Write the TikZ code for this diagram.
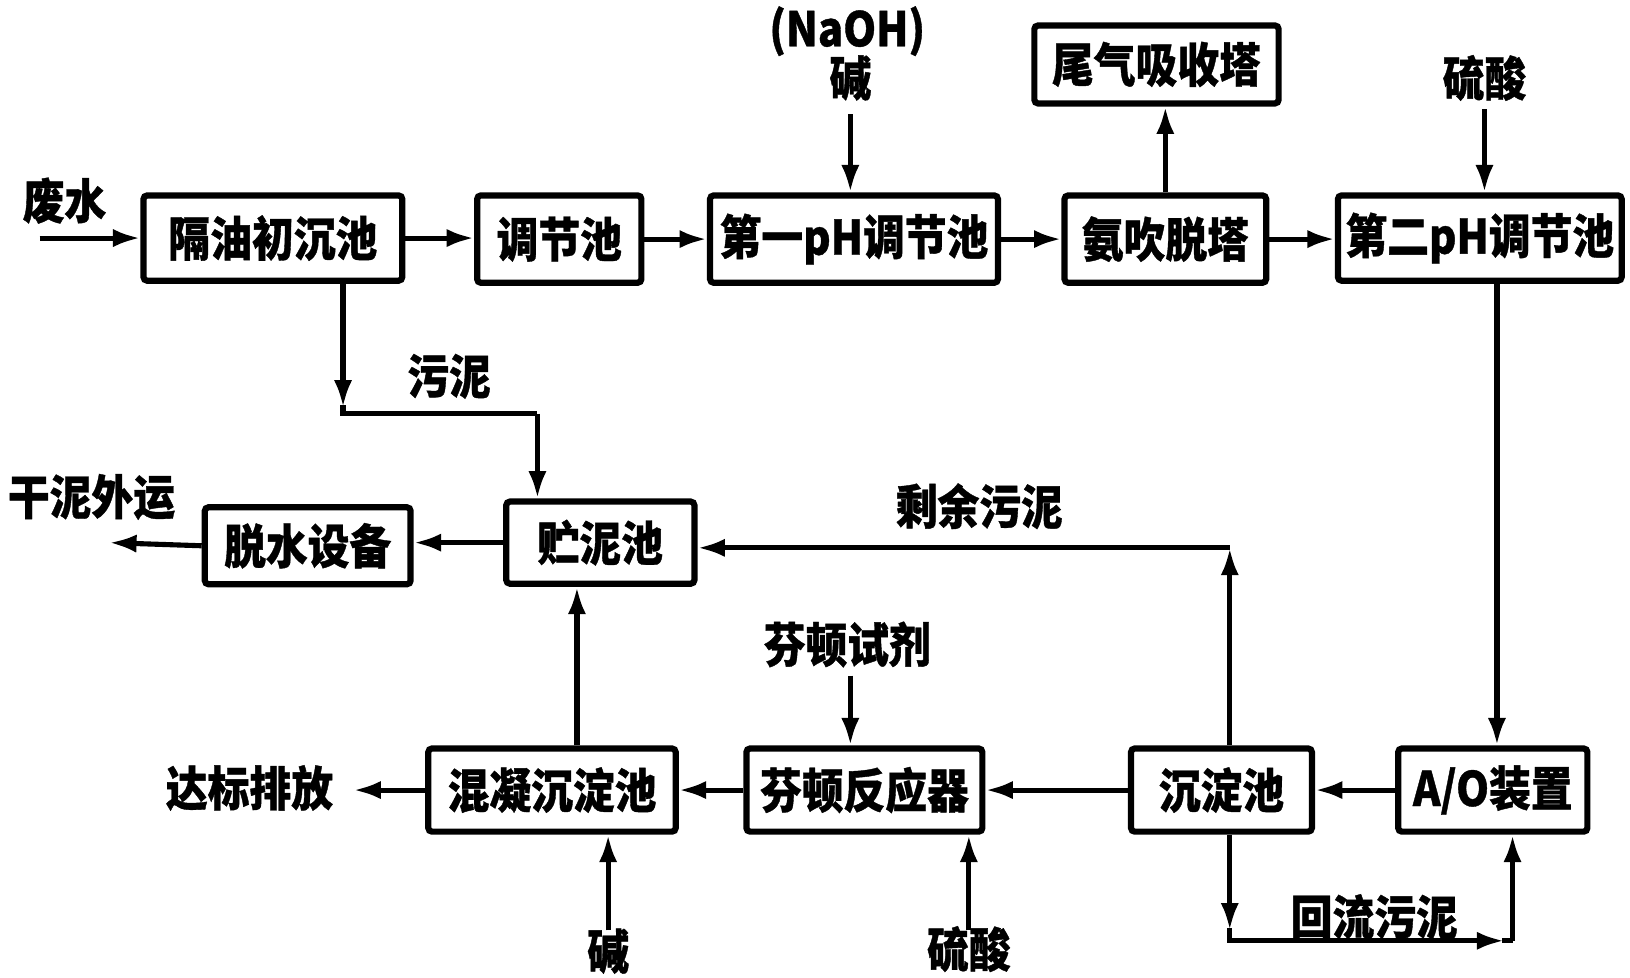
\documentclass[tikz,border=0pt]{standalone}
\usepackage{fontspec}
\newfontfamily\cjk[FakeStretch=0.88,BoldFeatures={FakeBold=0.8}]{Noto Sans CJK SC}
\usetikzlibrary{arrows.meta,calc}
\begin{document}
\begin{tikzpicture}[x=0.02cm,y=-0.02cm,
  box/.style={draw,line width=3.4pt,rounded corners=2pt,inner sep=0pt,font=\cjk\bfseries\fontsize{26}{30}\selectfont},
  lbl/.style={inner sep=0pt,font=\cjk\bfseries\fontsize{26}{30}\selectfont},
  ln/.style={line width=2.8pt},
  arr/.style={line width=2.8pt,-{Latex[length=15pt,width=10pt]}}]
\useasboundingbox (0,0) rectangle (1568,940);

% row 1
\node[box,minimum width=4.98cm,minimum height=1.64cm] (gy) at (262.5,229) {隔油初沉池};
\node[box,minimum width=3.16cm,minimum height=1.68cm] (tj) at (538,230) {调节池};
\node[box,minimum width=5.54cm,minimum height=1.68cm] (p1) at (821.5,230) {第一pH调节池};
\node[box,minimum width=3.88cm,minimum height=1.68cm] (ac) at (1121,230) {氨吹脱塔};
\node[box,minimum width=5.46cm,minimum height=1.64cm] (p2) at (1423.5,229) {第二pH调节池};
\node[box,minimum width=4.70cm,minimum height=1.50cm] (wq) at (1112.5,62) {尾气吸收塔};
% row 2
\node[box,minimum width=3.62cm,minimum height=1.58cm] (zn) at (577.5,522) {贮泥池};
\node[box,minimum width=3.96cm,minimum height=1.48cm] (ts) at (296,525) {脱水设备};
% row 3
\node[box,minimum width=4.76cm,minimum height=1.60cm] (hn) at (531,760) {混凝沉淀池};
\node[box,minimum width=4.54cm,minimum height=1.60cm] (ft) at (831.5,760) {芬顿反应器};
\node[box,minimum width=3.48cm,minimum height=1.60cm] (cd) at (1175,760) {沉淀池};
\node[box,minimum width=3.64cm,minimum height=1.60cm] (ao) at (1436,760) {A/O装置};

% labels
\node[lbl] (fs) at (62,193) {废水};
\node[lbl] (naoh) at (815,30) {(NaOH)};
\node[lbl] (jian1) at (818,75) {碱};
\node[lbl] (ls1) at (1428,75) {硫酸};
\node[lbl] (wn) at (432,362) {污泥};
\node[lbl] (gn) at (88,478) {干泥外运};
\node[lbl] (sy) at (942,487) {剩余污泥};
\node[lbl] (fd) at (815,620) {芬顿试剂};
\node[lbl] (db) at (240,758) {达标排放};
\node[lbl] (jian2) at (585,915) {碱};
\node[lbl] (ls2) at (932,913) {硫酸};
\node[lbl] (hl) at (1322,882) {回流污泥};

% coordinates
\coordinate (w0) at (38,229);
\coordinate (n0) at (818,110);
\coordinate (h0) at (1428,105);
\coordinate (s1) at (330,398);
\coordinate (s2) at (517,398);
\coordinate (r1) at (1183,527);
\coordinate (m0) at (555,640);
\coordinate (v0) at (1440,500);
\coordinate (d0) at (340,760);
\coordinate (t0) at (105,522);
\coordinate (f0) at (818,650);
\coordinate (j0) at (585,895);
\coordinate (k0) at (932,895);
\coordinate (b1) at (1183,905);
\coordinate (b2) at (1455,905);

% row 1 connectors
\draw[arr] (w0) -- (gy.west);
\draw[arr] (gy.east) -- (gy.east -| tj.west);
\draw[arr] (tj.east) -- (tj.east -| p1.west);
\draw[arr] (p1.east) -- (p1.east -| ac.west);
\draw[arr] (ac.east) -- (ac.east -| p2.west);
\draw[arr] (ac.north) -- (ac.north |- wq.south);
\draw[arr] (n0) -- (n0 |- p1.north);
\draw[arr] (h0) -- (h0 |- p2.north);

% sludge
\draw[arr] (gy.south -| s1) -- ($(s1)+(0,-6)$);
\draw[ln] ($(s1)+(0,-8)$) -- (s1) -- (s2);
\draw[arr] (s2) -- (s2 |- zn.north);
\draw[arr] (zn.west) -- (zn.west -| ts.east);
\draw[arr] (ts.west) -- (t0);

% excess sludge
\draw[arr] (cd.north -| r1) -- (r1);
\draw[arr] (r1) -- (r1 -| zn.east);

% row 3
\draw[arr] (hn.north -| m0) -- (zn.south -| m0);
\draw[arr] (p2.south -| v0) -- (ao.north -| v0);
\draw[arr] (ao.west) -- (ao.west -| cd.east);
\draw[arr] (cd.west) -- (cd.west -| ft.east);
\draw[arr] (ft.west) -- (ft.west -| hn.east);
\draw[arr] (hn.west) -- (d0);
\draw[arr] (f0) -- (f0 |- ft.north);
\draw[arr] (j0) -- (j0 |- hn.south);
\draw[arr] (k0) -- (k0 |- ft.south);

% return sludge
\draw[arr] (cd.south -| b1) -- ($(b1)+(0,-10)$);
\draw[arr] ($(b1)+(0,-12)$) -- (b1) -- ($(b2)+(-8,0)$);
\draw[ln] ($(b2)+(-10,0)$) -- (b2);
\draw[arr] (b2) -- (b2 |- ao.south);
\end{tikzpicture}
\end{document}
